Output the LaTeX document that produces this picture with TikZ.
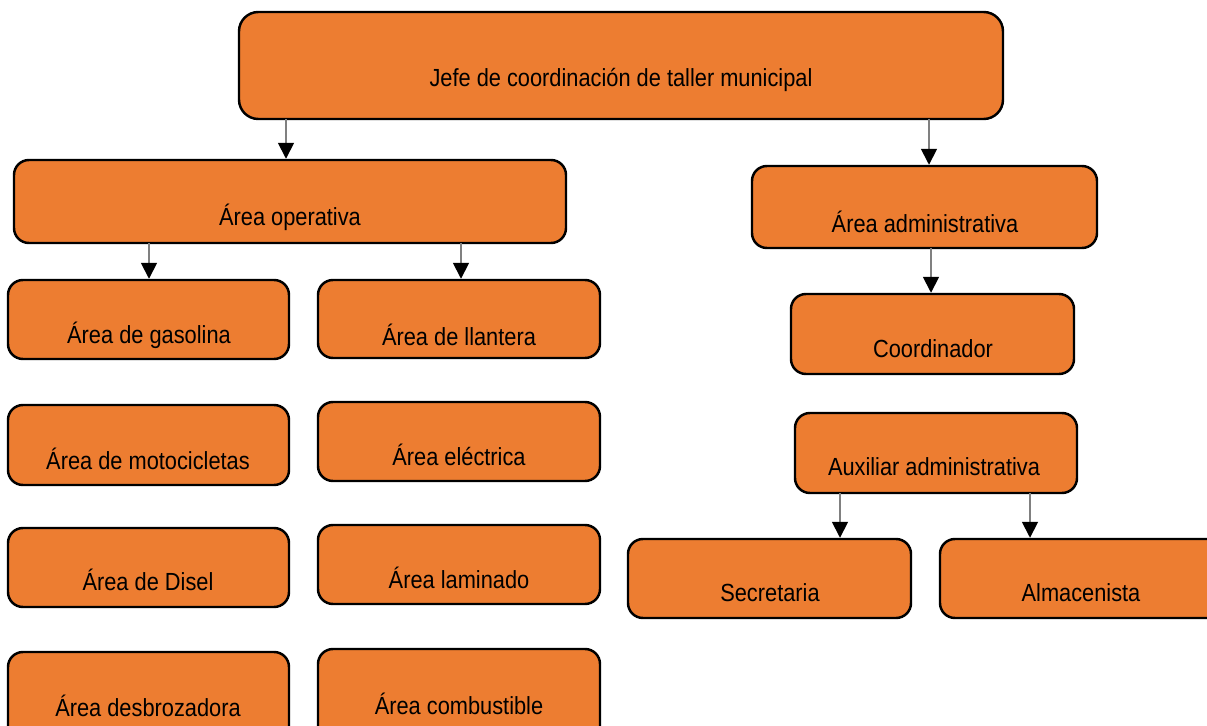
\documentclass[tikz,border=0pt]{standalone}
\usepackage{fontspec}
\setmainfont[FakeStretch=0.88]{Liberation Sans}
\usetikzlibrary{arrows.meta,fit}
\definecolor{boxor}{HTML}{ED7D31}
\tikzset{
  box/.style={draw=black, line width=1.4pt, fill=boxor, rounded corners=8.5pt, inner sep=0pt},
  bigbox/.style={box, rounded corners=11pt},
  lbl/.style={inner sep=0pt, font=\fontsize{14.1}{16}\selectfont},
  arr/.style={draw=gray, line width=1pt, -{Triangle[black,length=9pt,width=9pt]}}
}
\begin{document}
\begin{tikzpicture}[x=0.02cm,y=-0.02cm]
\useasboundingbox (0,0) rectangle (1207,726);
\clip (0,0) rectangle (1207,726);
% boxes
\node[bigbox, fit={(239,12)(1003,119)}] (top) {};
\node[box, fit={(14,160)(566,243)}] (op) {};
\node[box, fit={(752,166)(1097,248)}] (adm) {};
\node[box, fit={(791,294)(1074,374)}] (coo) {};
\node[box, fit={(795,413)(1077,493)}] (aux) {};
\node[box, fit={(628,539)(911,618)}] (sec) {};
\node[box, fit={(940,539)(1225,618)}] (alm) {};
\node[box, fit={(8,280)(289,359)}] (gas) {};
\node[box, fit={(318,280)(600,358)}] (lla) {};
\node[box, fit={(8,405)(289,485)}] (mot) {};
\node[box, fit={(318,402)(600,481)}] (ele) {};
\node[box, fit={(8,528)(289,607)}] (dis) {};
\node[box, fit={(318,525)(600,604)}] (lam) {};
\node[box, fit={(8,652)(289,745)}] (des) {};
\node[box, fit={(318,649)(600,745)}] (com) {};
% labels
\node[lbl] (topt) at (621,80) {Jefe de coordinación de taller municipal};
\node[lbl] (opt) at (290,217) {Área operativa};
\node[lbl] (admt) at (925,222) {Área administrativa};
\node[lbl] (coot) at (933,349) {Coordinador};
\node[lbl] (auxt) at (934,467) {Auxiliar administrativa};
\node[lbl] (sect) at (770,593) {Secretaria};
\node[lbl] (almt) at (1081,593) {Almacenista};
\node[lbl] (gast) at (149,335) {Área de gasolina};
\node[lbl] (llat) at (459,335) {Área de llantera};
\node[lbl] (mott) at (148,459) {Área de motocicletas};
\node[lbl] (elet) at (459,455) {Área eléctrica};
\node[lbl] (dist) at (148,580) {Área de Disel};
\node[lbl] (lamt) at (459,578) {Área laminado};
\node[lbl] (dest) at (148,706) {Área desbrozadora};
\node[lbl] (comt) at (459,704) {Área combustible};
% arrows
\coordinate (a1) at (286,119);
\coordinate (a2) at (929,119);
\coordinate (a3) at (149,243);
\coordinate (a4) at (461,243);
\coordinate (a5) at (931,248);
\coordinate (a6) at (840,493);
\coordinate (a7) at (1030,493);
\draw[arr] (a1) -- (a1 |- op.north);
\draw[arr] (a2) -- (a2 |- adm.north);
\draw[arr] (a3) -- (a3 |- gas.north);
\draw[arr] (a4) -- (a4 |- lla.north);
\draw[arr] (a5) -- (a5 |- coo.north);
\draw[arr] (a6) -- (a6 |- sec.north);
\draw[arr] (a7) -- (a7 |- alm.north);
\end{tikzpicture}
\end{document}
